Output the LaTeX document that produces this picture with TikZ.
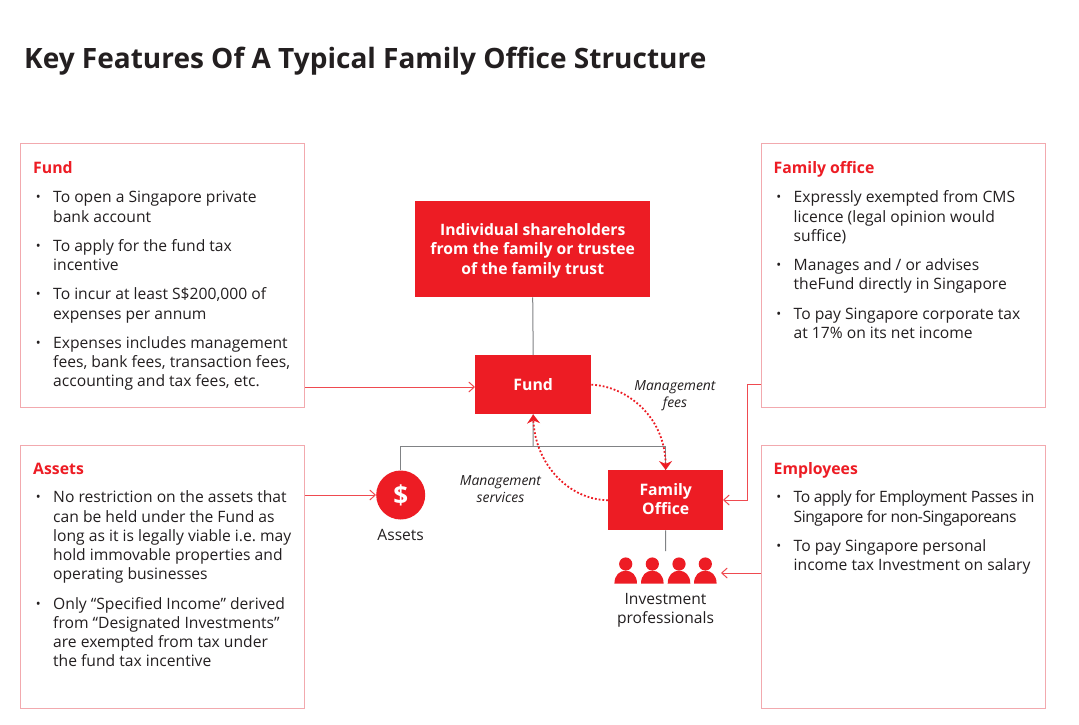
\documentclass[tikz,border=0pt]{standalone}
\usepackage{fontspec}
\setmainfont{Open Sans}
\usetikzlibrary{arrows.meta,calc}
\definecolor{brand}{HTML}{ED1C24}
\definecolor{pale}{HTML}{F2A9AE}
\definecolor{lnk}{HTML}{EF4A50}
\definecolor{ink}{HTML}{231F20}
\definecolor{gry}{HTML}{808285}
\newcommand{\bu}{\leavevmode\llap{\raisebox{1pt}{\fontsize{13}{13}\selectfont•}\hspace{12.5pt}}}
\newcommand{\tight}[1]{{\addfontfeature{LetterSpace=-3}#1}}
\tikzset{
  x=1pt,y=-1pt,
  panel/.style={draw=pale,line width=1pt,fill=white,rectangle,inner sep=0pt,anchor=north west},
  redbox/.style={fill=brand,draw=none,rectangle,inner sep=0pt,anchor=north west,text=white,align=center,font=\fontsize{15.8}{19}\selectfont\bfseries},
  headtxt/.style={anchor=base west,inner sep=0pt,text=brand,font=\fontsize{15.8}{19}\selectfont\bfseries},
  bodytxt/.style={anchor=north west,inner sep=0pt,text=ink,align=left,font=\fontsize{15.65}{19.25}\selectfont},
  captxt/.style={inner sep=0pt,text=ink,align=center,font=\fontsize{15.6}{19}\selectfont},
  ittxt/.style={inner sep=0pt,text=ink,align=center,font=\fontsize{13.9}{17}\selectfont\itshape},
  feed/.style={draw=lnk,line width=1pt,-{Straight Barb[length=5.5pt,width=10pt]}},
  stem/.style={draw=gry,line width=1pt},
  flow/.style={draw=brand,line width=1.8pt,dotted,-{Stealth[length=9pt,width=13pt,inset=3pt]}},
}
\begin{document}
\begin{tikzpicture}
\useasboundingbox (0,0) rectangle (1079,724);
\fill[white] (0,0) rectangle (1079,724);
\node[anchor=base west,inner sep=0pt,text=ink,font=\fontsize{28}{34}\selectfont\bfseries] (title) at (24,68) {Key Features Of A Typical Family Office Structure};

% panels
\node[panel,minimum width=284pt,minimum height=264pt] (fundbox) at (20,143) {};
\node[panel,minimum width=284pt,minimum height=263pt] (assetbox) at (20,445) {};
\node[panel,minimum width=284pt,minimum height=264pt] (fobox) at (761,143) {};
\node[panel,minimum width=284pt,minimum height=263pt] (empbox) at (761,445) {};

\node[headtxt] (fundh) at (33,173) {Fund};
\node[bodytxt] (fundt) at (53,189.3) {\bu\strut To open a Singapore private\\bank account\\[10pt]
\bu To apply for the fund tax\\incentive\\[10pt]
\bu To incur at least S\$200,000 of\\expenses per annum\\[10pt]
\bu Expenses includes management\\fees, bank fees, transaction fees,\\accounting and tax fees, etc.};

\node[headtxt] (asseth) at (33,474) {Assets};
\node[bodytxt] (assett) at (53,489.3) {\bu\strut No restriction on the assets that\\can be held under the Fund as\\long as it is legally viable i.e.\ may\\hold immovable properties and\\operating businesses\\[10pt]
\bu Only “Specified Income” derived\\from “Designated Investments”\\are exempted from tax under\\the fund tax incentive};

\node[headtxt] (foh) at (773.5,173) {Family office};
\node[bodytxt] (fot) at (793.5,189.3) {\bu\strut Expressly exempted from CMS\\licence (legal opinion would\\suffice)\\[10pt]
\bu Manages and / or advises\\theFund directly in Singapore\\[10pt]
\bu To pay Singapore corporate tax\\at 17\% on its net income};

\node[headtxt] (emph) at (773.5,474) {Employees};
\node[bodytxt] (empt) at (793.5,489.3) {\bu\strut \tight{To apply for Employment Passes in}\\\tight{Singapore for non-Singaporeans}\\[10pt]
\bu To pay Singapore personal\\income tax Investment on salary};

% central nodes
\node[redbox,minimum width=235pt,minimum height=96pt,font=\fontsize{15.7}{19.5}\selectfont\bfseries] (holders) at (415,201) {\rule{0pt}{15pt}Individual shareholders\\from the family or trustee\\of the family trust};
\node[redbox,minimum width=116pt,minimum height=59pt] (fund) at (475,355) {Fund};
\node[redbox,minimum width=115pt,minimum height=60pt] (office) at (608,470) {Family\\Office\rule[-2pt]{0pt}{2pt}};
\node[circle,fill=brand,draw=none,minimum size=49pt,inner sep=0pt,text=white,font=\fontsize{26}{26}\selectfont\bfseries] (assets) at (400.7,495) {\$};
\node[captxt,anchor=center] (assetcap) at (400.7,535) {Assets};
\node[captxt,anchor=north] (invcap) at (665.5,593) {Investment\\professionals};
\node[ittxt] (mfees) at (675,395.5) {Management\\fees};
\node[ittxt] (mserv) at (500.5,489.5) {Management\\services};

% people
\foreach \n/\px in {a/625.7,b/652.3,c/679,d/705.3}{
  \fill[brand] (\px,564) circle (6.6);
  \fill[brand] (\px-11.3,583.7) .. controls (\px-11.3,575) and (\px-6,570.7) .. (\px,570.7) .. controls (\px+6,570.7) and (\px+11.3,575) .. (\px+11.3,583.7) -- cycle;
}
\coordinate (people) at (665.5,551);
\coordinate (peoplein) at (721,573);

% grey structure
\coordinate (bus) at (533,446);
\draw[stem] (holders.south) -- (fund.north);
\draw[stem] (fund.south) -- (bus);
\draw[stem] (assets.north) |- (bus) -| (office.north);
\draw[stem] (office.south) -- (people);

% dotted flows
\draw[flow] (fund.east) .. controls (625,386) and (665,415) .. (office.north);
\draw[flow] (office.west) .. controls (570,500) and (535,465) .. (fund.south);

% feeders
\coordinate (fundin) at (475,387);
\coordinate (foout) at (761,384);
\coordinate (foin) at (723,500);
\draw[feed] (fundbox.east |- fundin) -- (fundin);
\draw[feed] (assetbox.east |- assets) -- (assets.west);
\draw[feed] (foout) -- (747,384) -- (747,500) -- (foin);
\draw[feed] (empbox.west |- peoplein) -- (peoplein);
\end{tikzpicture}
\end{document}
